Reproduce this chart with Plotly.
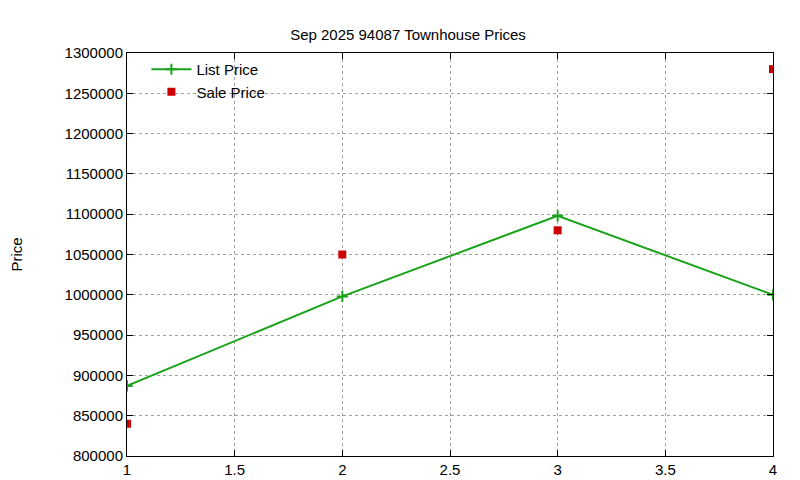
import plotly.graph_objects as go

x_vals = [1, 2, 3, 4]
list_price = [887000, 998000, 1098000, 1000000]
sale_price = [840000, 1050000, 1080000, 1280000]

fig = go.Figure()
fig.add_trace(go.Scatter(x=x_vals, y=list_price, mode="lines+markers", name="List Price",
                         line=dict(color="#1aa31a", width=2),
                         marker=dict(symbol="cross-thin", size=8, line=dict(color="#1aa31a", width=2))))
fig.add_trace(go.Scatter(x=x_vals, y=sale_price, mode="markers", name="Sale Price",
                         marker=dict(symbol="square", size=8, color="#cc0000")))

font = dict(family="Liberation Sans, Arial", size=15, color="black")
axis_common = dict(showline=True, linecolor="black", linewidth=1, mirror="allticks",
                   ticks="inside", ticklen=6, tickcolor="black",
                   showgrid=True, gridcolor="#a0a0a0", griddash="dot", gridwidth=1,
                   zeroline=False, tickfont=font, automargin=False)
fig.update_layout(
    width=800, height=480, plot_bgcolor="white", paper_bgcolor="white",
    margin=dict(l=119, r=35, t=45, b=32, autoexpand=False),
    title=dict(text="Sep 2025 94087 Townhouse Prices", x=0.5, xanchor="center", y=0.955,
               font=dict(family="Liberation Sans, Arial", size=15, color="black")),
    xaxis=dict(range=[1, 4], dtick=0.5, **axis_common),
    yaxis=dict(range=[800000, 1300000], dtick=50000, tickformat="d",
               title=dict(text="Price", font=font, standoff=40), **axis_common),
    legend=dict(x=0.03, y=1.0, xanchor="left", yanchor="top", bgcolor="rgba(0,0,0,0)",
                font=font, tracegroupgap=0, itemwidth=40),
    showlegend=True,
)
fig.write_html("out.html")
